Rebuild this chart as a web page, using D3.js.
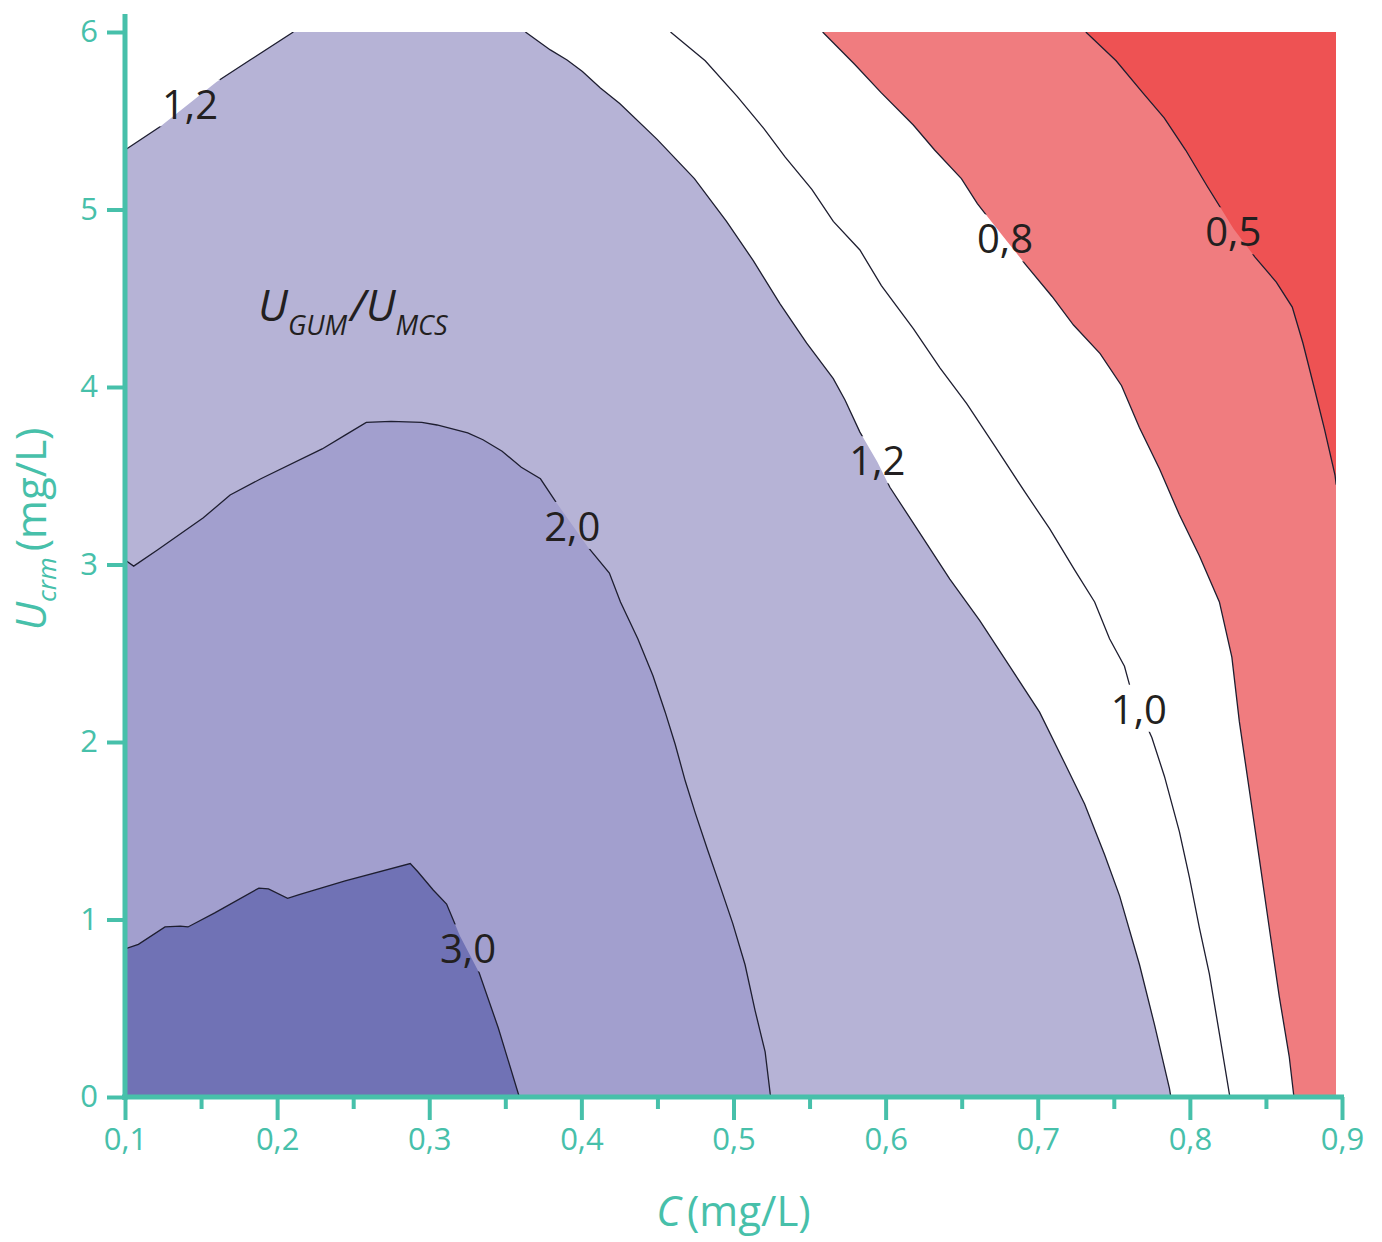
<!DOCTYPE html>
<html>
<head>
<meta charset="utf-8">
<style>
  body { margin: 0; background: #fff; }
  text { font-family: "Open Sans", "Noto Sans", sans-serif; }
</style>
</head>
<body>
<script src="https://d3js.org/d3.v7.min.js"></script>
<svg id="chart" width="1382" height="1242"></svg>
<script>
// axis ticks
const cTicks = [0.1, 0.2, 0.3, 0.4, 0.5, 0.6, 0.7, 0.8, 0.9];
const cMinorTicks = [0.15, 0.25, 0.35, 0.45, 0.55, 0.65, 0.75, 0.85];
const uTicks = [0, 1, 2, 3, 4, 5, 6];

// contour lines of U_GUM/U_MCS, points as [C, U_crm]
const contour30 = [[0.1, 0.834], [0.1088, 0.86], [0.1263, 0.958], [0.1364, 0.963], [0.1414, 0.958],
  [0.159, 1.037], [0.188, 1.177], [0.1943, 1.172], [0.2069, 1.119], [0.2145, 1.14], [0.2447, 1.217],
  [0.2875, 1.315], [0.2925, 1.269], [0.3026, 1.166], [0.3114, 1.087], [0.3202, 0.907], [0.3328, 0.70],
  [0.3454, 0.389], [0.3592, 0]];
const contour20 = [[0.1, 3.025], [0.1057, 2.991], [0.1213, 3.082], [0.1515, 3.263], [0.1691, 3.392],
  [0.1893, 3.483], [0.2296, 3.651], [0.2447, 3.729], [0.2586, 3.801], [0.2749, 3.806], [0.2951, 3.801],
  [0.3051, 3.786], [0.3253, 3.742], [0.3353, 3.703], [0.3479, 3.638], [0.3605, 3.548], [0.3731, 3.483],
  [0.3832, 3.353], [0.4046, 3.095], [0.4184, 2.952], [0.4257, 2.789], [0.4371, 2.582], [0.447, 2.375],
  [0.4551, 2.168], [0.4617, 1.986], [0.4683, 1.78], [0.4749, 1.599], [0.483, 1.392], [0.4913, 1.185],
  [0.4995, 0.978], [0.5076, 0.745], [0.5142, 0.487], [0.5208, 0.254], [0.5241, 0.02], [0.5245, 0]];
const contour12a = [[0.1, 5.335], [0.123, 5.466], [0.1603, 5.72], [0.1822, 5.842], [0.2107, 6.0]];
const contour12b = [[0.3632, 6.0], [0.3796, 5.899], [0.3906, 5.842], [0.4007, 5.778], [0.4125, 5.684],
  [0.4252, 5.597], [0.4498, 5.395], [0.4743, 5.174], [0.4954, 4.933], [0.513, 4.712], [0.5305, 4.47],
  [0.548, 4.248], [0.5656, 4.047], [0.5733, 3.927], [0.5831, 3.746], [0.5946, 3.577], [0.6028, 3.435],
  [0.6225, 3.177], [0.6422, 2.918], [0.6618, 2.685], [0.6816, 2.426], [0.7012, 2.168], [0.7176, 1.883],
  [0.7308, 1.651], [0.7439, 1.366], [0.7538, 1.133], [0.7669, 0.745], [0.7767, 0.409], [0.7866, 0.047],
  [0.7875, 0]];
const contour10 = [[0.4586, 6.0], [0.4814, 5.838], [0.5024, 5.637], [0.52, 5.456], [0.534, 5.295],
  [0.5515, 5.114], [0.5656, 4.933], [0.5831, 4.772], [0.5972, 4.571], [0.6182, 4.329], [0.6357, 4.108],
  [0.6533, 3.906], [0.6717, 3.668], [0.6914, 3.41], [0.7078, 3.202], [0.7242, 2.97], [0.7374, 2.789],
  [0.7472, 2.582], [0.757, 2.427], [0.7603, 2.323], [0.7668, 2.18], [0.775, 2.025], [0.7833, 1.806],
  [0.7931, 1.495], [0.7997, 1.237], [0.8063, 0.952], [0.8128, 0.694], [0.8194, 0.357], [0.8259, 0.021],
  [0.8263, 0]];
const contour08 = [[0.5586, 6.0], [0.5796, 5.818], [0.5972, 5.657], [0.6182, 5.476], [0.6322, 5.335],
  [0.6498, 5.174], [0.6603, 5.033], [0.6778, 4.842], [0.6919, 4.691], [0.7094, 4.51], [0.7235, 4.349],
  [0.741, 4.188], [0.7551, 4.007], [0.7668, 3.772], [0.78, 3.539], [0.7931, 3.28], [0.8063, 3.048],
  [0.8194, 2.789], [0.8276, 2.478], [0.8325, 2.116], [0.8391, 1.728], [0.8457, 1.34], [0.8522, 0.952],
  [0.8588, 0.564], [0.8653, 0.228], [0.8684, 0]];
const contour05 = [[0.7316, 6.0], [0.7515, 5.838], [0.7691, 5.657], [0.7831, 5.516], [0.7972, 5.335],
  [0.8112, 5.134], [0.8287, 4.892], [0.8428, 4.732], [0.8568, 4.591], [0.8673, 4.45], [0.8743, 4.248],
  [0.8814, 4.007], [0.8884, 3.766], [0.8954, 3.504], [0.8962, 3.45]];

// contour labels [text, C, U_crm]
const contourLabels = [["1,2", 0.1427, 5.6], ["0,8", 0.6785, 4.84], ["0,5", 0.8285, 4.88],
  ["1,2", 0.5946, 3.59], ["2,0", 0.394, 3.22], ["1,0", 0.7665, 2.19], ["3,0", 0.3255, 0.84]];

const colors = {light: '#B6B3D6', medium: '#A29FCE', dark: '#7072B5', pink: '#F07C7F', red: '#EE5253',
  axis: '#47C0AA', line: '#1e1e30', text: '#231F20'};

const svg = d3.select('#chart');
const cMax = 0.896; // right border of the coloured field

const x = d3.scaleLinear().domain([0.1, 0.9]).range([125, 1342]);
const y = d3.scaleLinear().domain([0, 6]).range([1097, 32]);
const line = d3.line().x(d => x(d[0])).y(d => y(d[1]));

svg.append('clipPath').attr('id', 'plotClip')
  .append('rect')
  .attr('x', x(0.1)).attr('y', y(6))
  .attr('width', x(cMax) - x(0.1)).attr('height', y(0) - y(6));

const field = svg.append('g').attr('clip-path', 'url(#plotClip)');

// filled bands
const regions = [
  {pts: [...contour12a, ...contour12b, [0.1, 0]], fill: colors.light},
  {pts: [...contour20, [0.1, 0]], fill: colors.medium},
  {pts: [...contour30, [0.1, 0]], fill: colors.dark},
  {pts: [...contour08, [0.9, 0], [0.9, 6]], fill: colors.pink},
  {pts: [...contour05, [0.9, 3.45], [0.9, 6]], fill: colors.red}
];
field.selectAll('.band')
  .data(regions)
  .enter().append('path')
  .attr('class', 'band')
  .attr('d', d => line(d.pts) + 'Z')
  .attr('fill', d => d.fill);

// labels first, to cut gaps in the lines
const labelG = svg.append('g');
const labels = labelG.selectAll('text')
  .data(contourLabels)
  .enter().append('text')
  .attr('x', d => x(d[1]))
  .attr('y', d => y(d[2]))
  .attr('text-anchor', 'middle')
  .attr('dominant-baseline', 'central')
  .attr('font-size', 40)
  .attr('fill', colors.text)
  .text(d => d[0]);

const mask = svg.append('mask').attr('id', 'lineMask');
mask.append('rect').attr('width', 1382).attr('height', 1242).attr('fill', '#fff');
labels.each(function () {
  const b = this.getBBox();
  mask.append('rect')
    .attr('x', b.x - 2).attr('y', b.y + 4)
    .attr('width', b.width + 4).attr('height', b.height - 8)
    .attr('fill', '#000');
});

const lineG = field.append('g').attr('mask', 'url(#lineMask)');
lineG.selectAll('.cline')
  .data([contour30, contour20, contour12a, contour12b, contour10, contour08, contour05])
  .enter().append('path')
  .attr('class', 'cline')
  .attr('d', line)
  .attr('fill', 'none')
  .attr('stroke', colors.line)
  .attr('stroke-width', 1.3);

labelG.raise();

// ratio annotation
const note = svg.append('text')
  .attr('x', x(0.1875)).attr('y', y(4.37))
  .attr('font-size', 44)
  .attr('font-style', 'italic')
  .attr('fill', colors.text);
note.append('tspan').text('U');
note.append('tspan').attr('font-size', 27).attr('dy', 14).text('GUM');
note.append('tspan').attr('dy', -14).attr('dx', 3).text('/U');
note.append('tspan').attr('font-size', 27).attr('dy', 14).text('MCS');

// axes
const xAxis = d3.axisBottom(x)
  .tickValues(cTicks)
  .tickSize(23)
  .tickSizeOuter(0)
  .tickPadding(8)
  .tickFormat(d => d3.format('.1f')(d).replace('.', ','));
const xMinor = d3.axisBottom(x).tickValues(cMinorTicks).tickSize(12).tickFormat('');
const yAxis = d3.axisLeft(y)
  .tickValues(uTicks)
  .tickSize(18)
  .tickSizeOuter(0)
  .tickPadding(9)
  .tickFormat(d3.format('d'));

const gx = svg.append('g').attr('transform', `translate(0, ${y(0)})`).call(xAxis);
const gxm = svg.append('g').attr('transform', `translate(0, ${y(0)})`).call(xMinor);
const gy = svg.append('g').attr('transform', `translate(${x(0.1)}, 0)`).call(yAxis);

[gx, gxm, gy].forEach(g => {
  g.select('.domain').remove();
  g.selectAll('.tick line').attr('stroke', colors.axis).attr('stroke-width', 4);
  g.selectAll('.tick text').attr('fill', colors.axis).attr('font-size', 31)
    .attr('font-family', '"Open Sans", sans-serif');
});

svg.append('line')
  .attr('x1', x(0.1) - 3).attr('x2', x(0.9) + 2)
  .attr('y1', y(0)).attr('y2', y(0))
  .attr('stroke', colors.axis).attr('stroke-width', 5);
svg.append('line')
  .attr('x1', x(0.1)).attr('x2', x(0.1))
  .attr('y1', y(0) + 3).attr('y2', y(6) - 18)
  .attr('stroke', colors.axis).attr('stroke-width', 5);

// axis titles
const xt = svg.append('text')
  .attr('x', x(0.5)).attr('y', 1226)
  .attr('text-anchor', 'middle')
  .attr('font-size', 42)
  .attr('fill', colors.axis);
xt.append('tspan').attr('font-style', 'italic').text('C');
xt.append('tspan').attr('dx', 6).text('(mg/L)');

const yt = svg.append('text')
  .attr('transform', `translate(46, ${y(3.2)}) rotate(-90)`)
  .attr('text-anchor', 'middle')
  .attr('font-size', 42)
  .attr('fill', colors.axis);
yt.append('tspan').attr('font-style', 'italic').text('U');
yt.append('tspan').attr('font-style', 'italic').attr('font-size', 26).attr('dy', 10).text('crm');
yt.append('tspan').attr('dy', -10).attr('dx', 6).text('(mg/L)');
</script>
</body>
</html>
